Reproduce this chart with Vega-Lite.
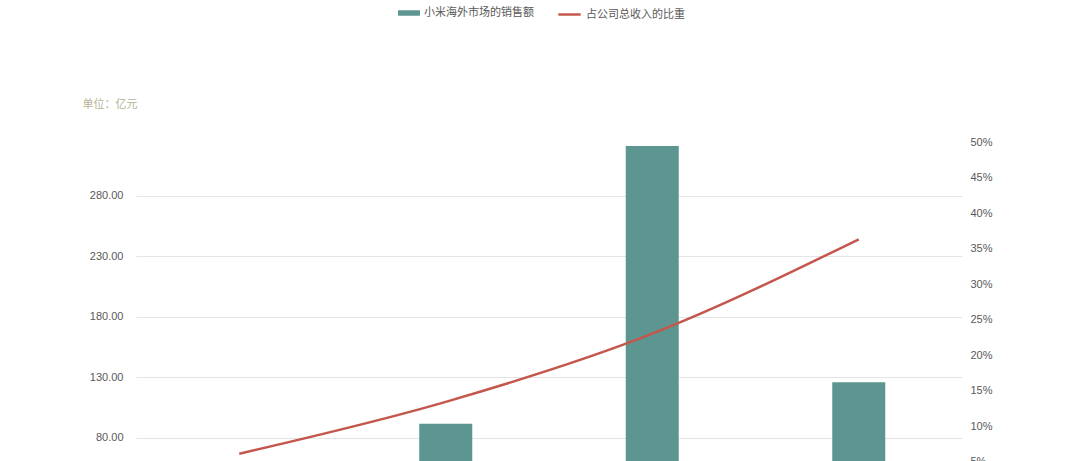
{
  "$schema": "https://vega.github.io/schema/vega-lite/v6.json",
  "autosize": "none",
  "padding": {"left": 136, "top": 142, "right": 118, "bottom": 0},
  "width": 826,
  "height": 355,
  "background": "white",
  "data": {
    "values": [
      {"period": "2015年", "sales": 55.0, "share": 0.061},
      {"period": "2016年", "sales": 91.6, "share": 0.134},
      {"period": "2017年", "sales": 321.3, "share": 0.23},
      {"period": "2018年Q1", "sales": 125.9, "share": 0.363}
    ]
  },
  "encoding": {
    "x": {"field": "period", "type": "ordinal", "sort": null, "axis": null,
          "scale": {"paddingInner": 0, "paddingOuter": 0}}
  },
  "layer": [
    {
      "mark": {"type": "bar", "size": 53, "clip": true},
      "encoding": {
        "y": {
          "field": "sales", "type": "quantitative",
          "scale": {"domain": [31, 324.6], "nice": false, "zero": false},
          "axis": {
            "values": [30, 80, 130, 180, 230, 280],
            "format": ".2f",
            "domain": false, "ticks": false,
            "labelPadding": 13, "labelColor": "#595959", "labelFontSize": 11,
            "labelFont": "Liberation Sans",
            "gridColor": "#e4e4e4", "gridWidth": 1,
            "title": "单位：亿元", "titleAngle": 0, "titleAlign": "left",
            "titleBaseline": "middle", "titleX": -54, "titleY": -38,
            "titleColor": "#b3b394", "titleFontSize": 11, "titleFontWeight": "normal",
            "titleFont": "Noto Sans CJK SC"
          }
        },
        "fill": {
          "datum": "小米海外市场的销售额",
          "scale": {"range": ["#5d9690"]},
          "legend": {
            "orient": "none", "legendX": 262, "legendY": -140, "title": null,
            "symbolType": "M-1,-0.25H1V0.25H-1Z", "symbolSize": 480,
            "symbolStrokeWidth": 0,
            "labelFont": "Noto Sans CJK SC", "labelFontSize": 11, "labelColor": "#595959",
            "labelOffset": 4
          }
        }
      }
    },
    {
      "mark": {"type": "line", "interpolate": "monotone", "strokeWidth": 2.5},
      "encoding": {
        "y": {
          "field": "share", "type": "quantitative",
          "scale": {"domain": [0, 0.5], "nice": false},
          "axis": {
            "orient": "right",
            "values": [0.05, 0.1, 0.15, 0.2, 0.25, 0.3, 0.35, 0.4, 0.45, 0.5],
            "format": ".0%",
            "grid": false, "domain": false, "ticks": false,
            "labelPadding": 8, "labelColor": "#595959", "labelFontSize": 11,
            "labelFont": "Liberation Sans",
            "title": null
          }
        },
        "stroke": {
          "datum": "占公司总收入的比重",
          "scale": {"range": ["#c4574d"]},
          "legend": {
            "orient": "none", "legendX": 421, "legendY": -140, "title": null,
            "symbolType": "stroke", "symbolSize": 500, "symbolStrokeWidth": 2.5,
            "labelFont": "Noto Sans CJK SC", "labelFontSize": 11, "labelColor": "#595959",
            "labelOffset": 4
          }
        }
      }
    }
  ],
  "resolve": {"scale": {"y": "independent"}},
  "config": {"view": {"stroke": null}}
}
